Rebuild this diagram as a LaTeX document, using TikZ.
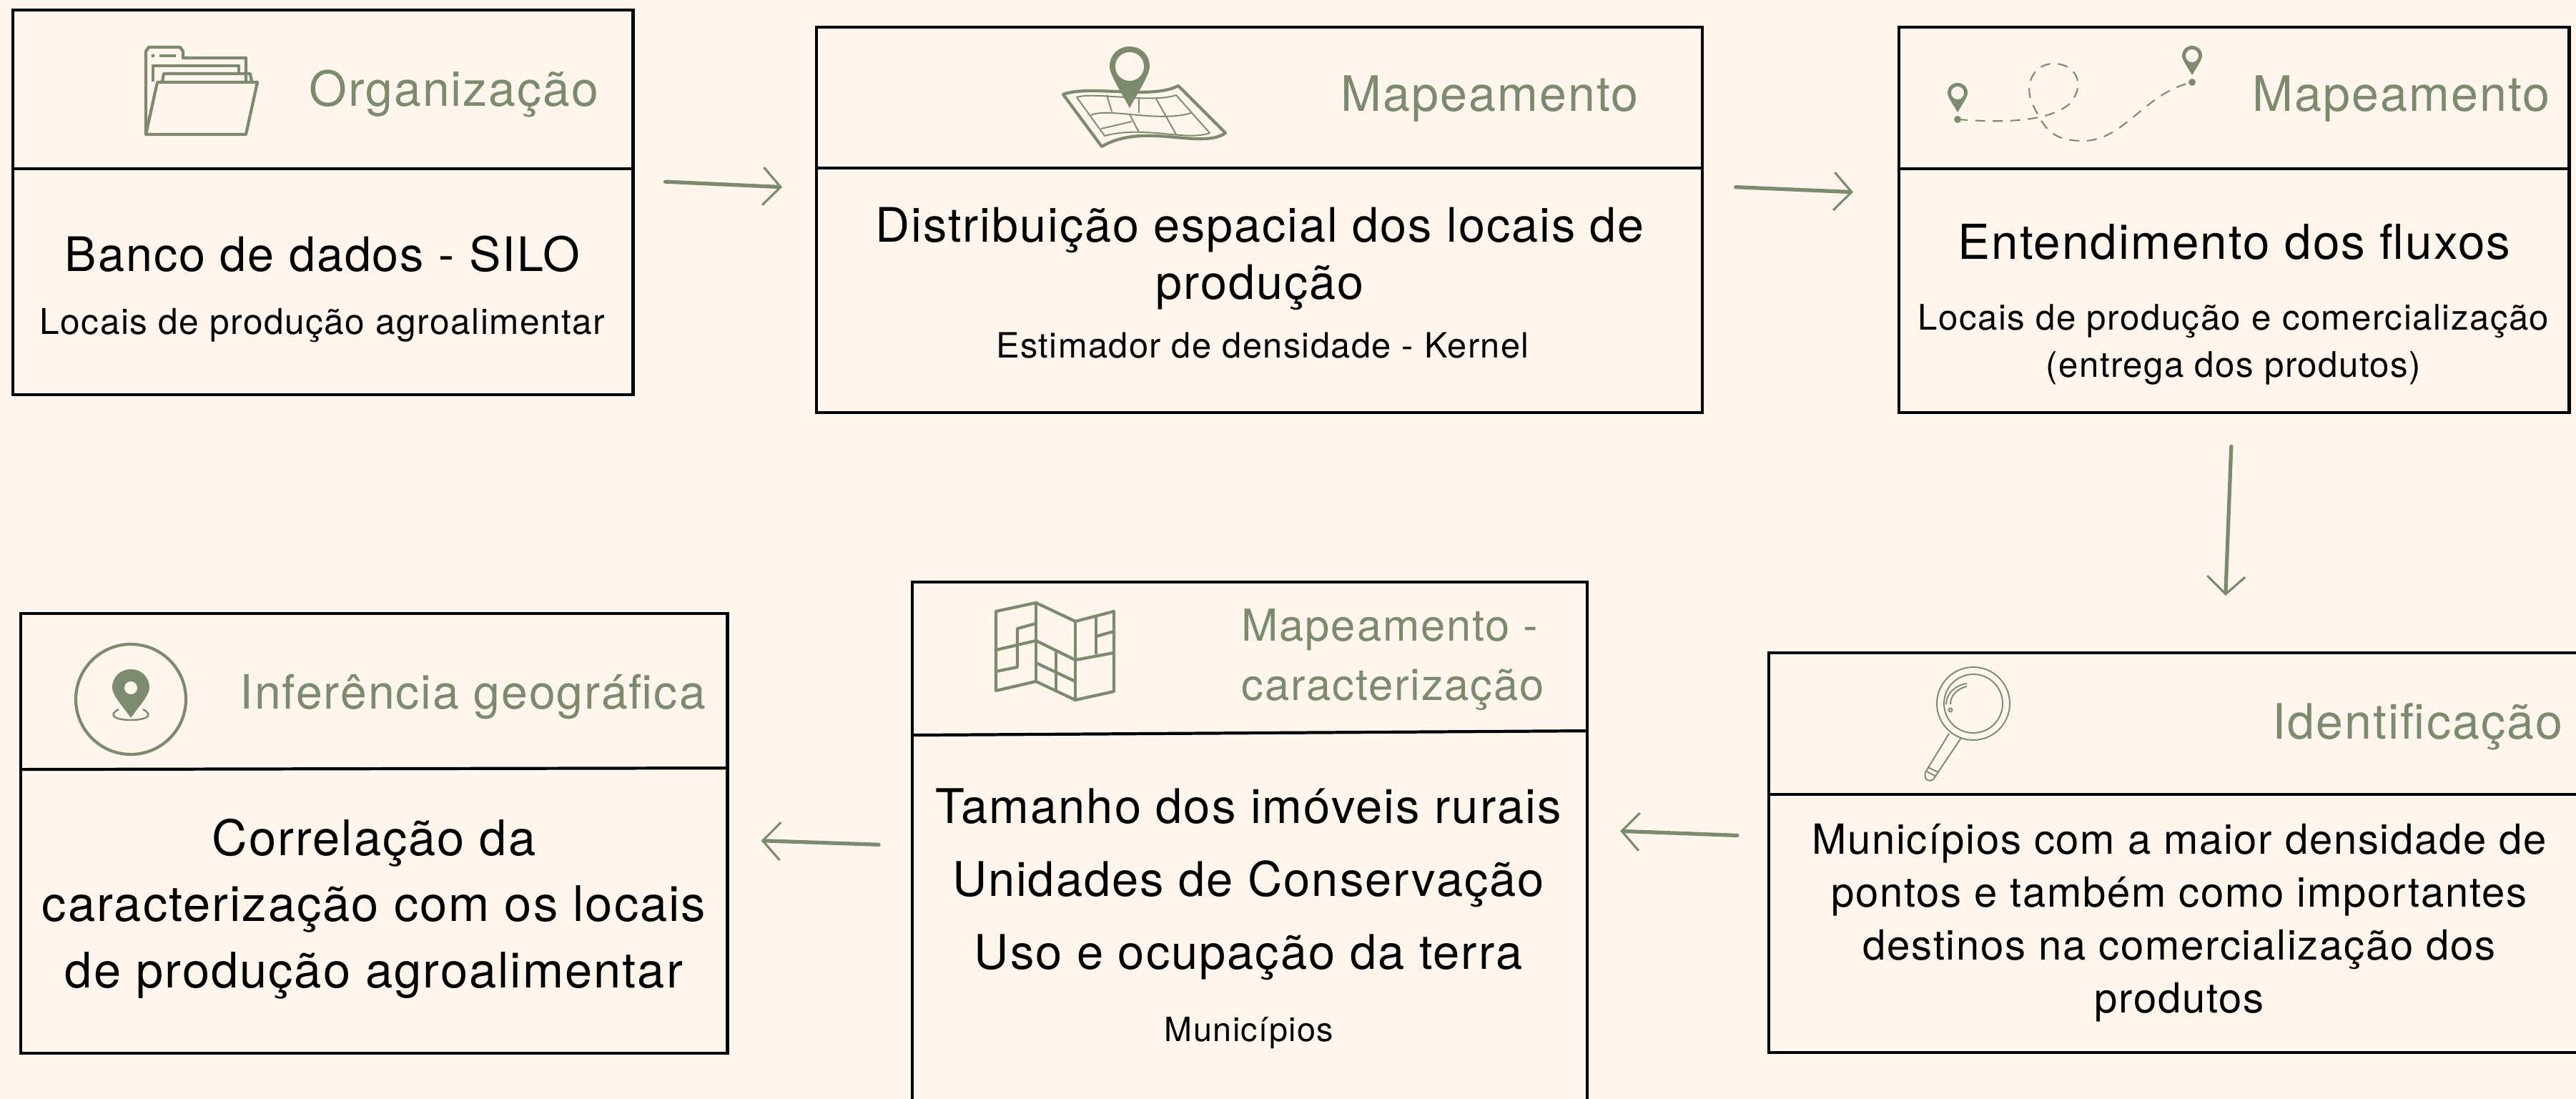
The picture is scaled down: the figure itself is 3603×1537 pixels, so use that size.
\documentclass[tikz,border=0pt]{standalone}
\usepackage{fontspec}
\setmainfont{TeX Gyre Heros}[LetterSpace=3]
\usetikzlibrary{arrows.meta}
\definecolor{paper}{HTML}{FFF5EC}
\definecolor{sage}{HTML}{7C8A6E}
\tikzset{
 boxframe/.style={draw=black,line width=1.2pt,inner sep=0pt,outer sep=0pt,anchor=north west},
 divider/.style={draw=black,line width=1.2pt},
 headtext/.style={font=\fontsize{#1}{23.5}\selectfont,text=sage,anchor=base west,inner sep=0pt,align=left},
 headtext/.default=19.4,
 bodytext/.style n args={2}{font=\fontsize{#1}{#2}\selectfont,text=black,anchor=base,inner sep=0pt,align=center},
 flowarrow/.style={draw=sage,line width=1.5pt,line cap=round,-{Straight Barb[length=7pt,width=15pt,line width=.9pt]}},
 iconline/.style={draw=sage,line width=1.2pt,line join=round},
 iconthin/.style={draw=sage,line width=.55pt,line join=round},
 routeline/.style={draw=sage,line width=.6pt,dash pattern=on 4pt off 3pt}
}
% x y radius tip hole
\newcommand{\pinmark}[5]{
 \fill[sage] (#1,{#2+#4}) .. controls ({#1-.45*#3},{#2+.6*#4}) and ({#1-#3},{#2+.4*#3}) .. ({#1-#3},#2)
  .. controls ({#1-#3},{#2-.6*#3}) and ({#1-.55*#3},{#2-#3}) .. (#1,{#2-#3})
  .. controls ({#1+.55*#3},{#2-#3}) and ({#1+#3},{#2-.6*#3}) .. ({#1+#3},#2)
  .. controls ({#1+#3},{#2+.4*#3}) and ({#1+.45*#3},{#2+.6*#4}) .. (#1,{#2+#4}) -- cycle;
 \fill[paper] (#1,#2) circle (#5);
}
\begin{document}
\begin{tikzpicture}[x=0.01cm,y=-0.01cm]
 \useasboundingbox (0,0) rectangle (3603,1537);
 \clip (0,0) rectangle (3603,1537);
 \fill[paper] (0,0) rectangle (3603,1537);

 % boxes
 \node[boxframe,minimum width=8.67cm,minimum height=5.38cm] (orgbox) at (18,14) {};
 \node[boxframe,minimum width=12.38cm,minimum height=5.39cm] (mapbox) at (1142,38) {};
 \node[boxframe,minimum width=9.37cm,minimum height=5.39cm] (flowbox) at (2656,38) {};
 \node[boxframe,minimum width=12cm,minimum height=5.585cm] (idbox) at (2474,913) {};
 \node[boxframe,minimum width=9.435cm,minimum height=9cm] (charbox) at (1276,814) {};
 \node[boxframe,minimum width=9.88cm,minimum height=6.15cm] (geobox) at (29,858) {};

 % dividers
 \draw[divider] ([yshift=-2.22cm]orgbox.north west) -- ([yshift=-2.22cm]orgbox.north east);
 \draw[divider] ([yshift=-1.97cm]mapbox.north west) -- ([yshift=-1.97cm]mapbox.north east);
 \draw[divider] ([yshift=-1.98cm]flowbox.north west) -- ([yshift=-1.98cm]flowbox.north east);
 \draw[divider] ([yshift=-1.98cm]idbox.north west) -- ([yshift=-1.98cm]idbox.north east);
 \draw[divider] ([yshift=-2.14cm]charbox.north west) -- ([yshift=-2.08cm]charbox.north east);
 \draw[divider] ([yshift=-2.18cm]geobox.north west) -- ([yshift=-2.16cm]geobox.north east);

 % headings
 \node[headtext=19.3] (orgtitle) at (432,149) {Organização};
 \node[headtext] (maptitle) at (1875,156) {Mapeamento};
 \node[headtext] (flowtitle) at (3150,156) {Mapeamento};
 \node[headtext] (idtitle) at (3178,1033) {Identificação};
 \node[headtext=17.5] (chartitle) at (1736,979) {Mapeamento -\\caracterização};
 \node[headtext=18.8] (geotitle) at (335,991) {Inferência geográfica};

 % texts
 \node[bodytext={18.9}{23}] (orgmain) at (451,380) {Banco de dados - SILO};
 \node[bodytext={14.1}{18}] (orgsub) at (451,468) {Locais de produção agroalimentar};
 \node[bodytext={18.9}{22.8}] (mapmain) at (1762,419) {Distribuição espacial dos locais de\\produção};
 \node[bodytext={13.85}{18}] (mapsub) at (1766,501) {Estimador de densidade - Kernel};
 \node[bodytext={19.15}{23}] (flowmain) at (3125,363) {Entendimento dos fluxos};
 \node[bodytext={14}{19}] (flowsub) at (3124,528) {Locais de produção e comercialização\\(entrega dos produtos)};
 \node[bodytext={16.5}{21}] (idmain) at (3048,1416) {Municípios com a maior densidade de\\pontos e também como importantes\\destinos na comercialização dos\\produtos};
 \node[bodytext={19}{29}] (charmain) at (1746,1355) {Tamanho dos imóveis rurais\\Unidades de Conservação\\Uso e ocupação da terra};
 \node[bodytext={13.3}{18}] (charsub) at (1747,1456) {Municípios};
 \node[bodytext={19.5}{26.2}] (geomain) at (523,1381) {Correlação da\\caracterização com os locais\\de produção agroalimentar};

 % arrows
 \draw[flowarrow] ([shift={(45,-29)}]orgbox.east) -- ([shift={(-48,-46)}]mapbox.west);
 \draw[flowarrow] ([shift={(47,-46)}]mapbox.east) -- ([shift={(-64,-39)}]flowbox.west);
 \draw[flowarrow] ([shift={(-4,47)}]flowbox.south) -- ([shift={(-12,-80)}]flowbox.south |- idbox.north);
 \draw[flowarrow] ([shift={(-44,-24)}]idbox.west) -- ([shift={(46,-102)}]charbox.east);
 \draw[flowarrow] ([shift={(-47,-83)}]charbox.west) -- ([shift={(47,10)}]geobox.east);

 % folder
 \draw[iconline] (204,188) -- (204,72) -- (208,66) -- (252,66) -- (256,72) -- (256,81) -- (344,81) -- (344,114);
 \draw[iconline] (214,114) -- (214,92) -- (334,92) -- (334,102);
 \draw[iconline] (227,114) -- (229,103) -- (350,103) -- (352,114);
 \draw[iconline] (220,115) -- (360,115) -- (344,188) -- (204,188) -- cycle;
 \draw[iconline] (223,78) -- (246,78);
 \fill[sage] (214,78) circle (2.5);

 % map with pin
 \draw[iconline] (1487,132) .. controls (1525,118) and (1610,140) .. (1648,120) -- (1714,186) .. controls (1680,210) and (1600,170) .. (1541,205) -- cycle;
 \draw[iconthin] (1506,136) .. controls (1530,128) and (1610,145) .. (1645,133) -- (1692,186) .. controls (1660,198) and (1600,175) .. (1545,190) -- cycle;
 \draw[iconthin] (1548,133) -- (1555,156);
 \draw[iconthin] (1593,138) -- (1593,158);
 \draw[iconthin] (1617,138) -- (1645,188);
 \draw[iconthin] (1526,161) .. controls (1550,150) and (1620,172) .. (1666,158);
 \draw[iconthin] (1580,160) -- (1593,185);
 \draw[iconthin] (1540,180) -- (1583,170);
 \pinmark{1580}{93}{28}{58}{20}

 % route with two pins
 \draw[routeline] (2738,167) .. controls (2780,170) and (2860,175) .. (2895,145) .. controls (2920,115) and (2900,89) .. (2873,89) .. controls (2840,89) and (2830,125) .. (2845,150) .. controls (2860,180) and (2870,197) .. (2914,197) .. controls (2970,197) and (3000,130) .. (3066,115);
 \pinmark{2738}{130}{14}{27}{9}
 \fill[sage] (2738,167) circle (5);
 \pinmark{3066}{78}{14}{27}{9}
 \fill[sage] (3066,115) circle (5);

 % magnifier
 \draw[iconthin] (2760,984) circle (51);
 \draw[iconthin] (2760,984) circle (41);
 \draw[iconthin] (2726,1026) -- (2693,1080) .. controls (2690,1092) and (2700,1094) .. (2704,1090) -- (2743,1032);
 \draw[iconthin] (2696,1073) -- (2711,1080);
 \draw[iconthin] (2695,1079) -- (2708,1086);
 \draw[iconthin] (2722,985) .. controls (2722,970) and (2735,958) .. (2751,956);
 \draw[iconthin] (2728,985) .. controls (2728,972) and (2738,963) .. (2751,960);
 \draw[iconthin] (2728,993) circle (2.5);

 % folded map
 \draw[iconline] (1393,855) -- (1449,843) -- (1504,869) -- (1558,855) -- (1558,967) -- (1504,979) -- (1449,953) -- (1393,966) -- cycle;
 \draw[iconline] (1449,843) -- (1449,953);
 \draw[iconline] (1504,869) -- (1504,979);
 \draw[iconline] (1393,909) -- (1449,896) -- (1504,923) -- (1558,913);
 \draw[iconline] (1449,872) -- (1423,879) -- (1423,933) -- (1393,939);
 \draw[iconline] (1449,927) -- (1504,953);
 \draw[iconline] (1477,910) -- (1477,966);
 \draw[iconline] (1533,862) -- (1533,915);
 \draw[iconline] (1533,890) -- (1558,883);

 % pin in circle
 \draw[iconline] (183,978) circle (77);
 \draw[iconthin,line width=.7pt] (166,992) .. controls (130,1012) and (236,1012) .. (200,992);
 \pinmark{183}{962}{26}{42}{9}
\end{tikzpicture}
\end{document}
